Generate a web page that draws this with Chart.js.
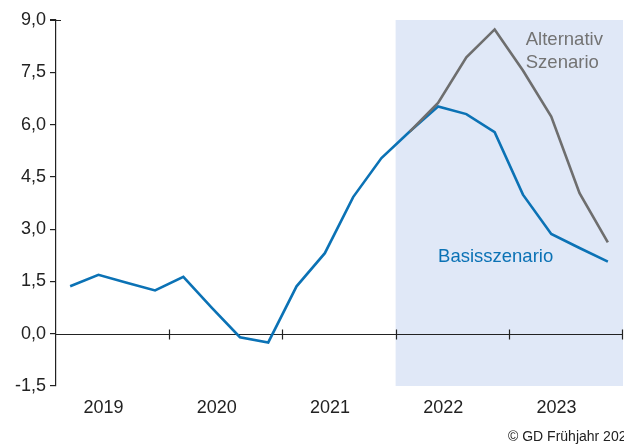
<!DOCTYPE html>
<html>
<head>
<meta charset="utf-8">
<script src="https://cdn.jsdelivr.net/npm/chart.js@4/dist/chart.umd.min.js"></script>
<style>
  html, body { margin: 0; padding: 0; background: #fff; }
  #wrap { width: 624px; height: 444px; }
</style>
</head>
<body>
<div id="wrap"><canvas id="grafica" width="624" height="444"></canvas></div>
<script>
// 📋 DATOS
const quartale = [
  "2019 Q1", "2019 Q2", "2019 Q3", "2019 Q4",
  "2020 Q1", "2020 Q2", "2020 Q3", "2020 Q4",
  "2021 Q1", "2021 Q2", "2021 Q3", "2021 Q4",
  "2022 Q1", "2022 Q2", "2022 Q3", "2022 Q4",
  "2023 Q1", "2023 Q2", "2023 Q3", "2023 Q4"
];
const jahre = ["2019", "2020", "2021", "2022", "2023"];

const basis = [1.36, 1.69, 1.46, 1.24, 1.63, 0.75, -0.10, -0.25,
               1.36, 2.31, 3.92, 5.04, 5.80, 6.52, 6.30, 5.78,
               3.99, 2.86, 2.46, 2.07];
const alternativ = [null, null, null, null, null, null, null, null,
                    null, null, null, null, 5.80, 6.62, 7.93, 8.73,
                    7.55, 6.23, 4.03, 2.62];

const yTicks = [-1.5, 0, 1.5, 3, 4.5, 6, 7.5, 9];
const yTickLabels = ["-1,5", "0,0", "1,5", "3,0", "4,5", "6,0", "7,5", "9,0"];

// Prognosezeitraum ab 2022 (Quartalsindex)
const prognoseStart = 12;

const toPoints = arr => arr.map((v, i) => ({ x: i + 0.5, y: v }));

const BLAU = "#0b72b5";
const GRAU = "#6e6e6e";
const TEXT = "#222222";
const FONT = "'Liberation Sans', Arial, Helvetica, sans-serif";


// 🎨 PLUGIN: Schattierung, Nulllinie, Beschriftungen
const extras = {
  id: "extras",
  beforeDatasetsDraw(chart) {
    const { ctx, scales: { x, y } } = chart;
    ctx.save();

    // Prognose-Hintergrund
    ctx.fillStyle = "#e0e8f7";
    const x0 = x.getPixelForValue(prognoseStart);
    const x1 = x.getPixelForValue(quartale.length) + 1;
    const yTop = y.getPixelForValue(9);
    const yBot = y.getPixelForValue(-1.5);
    ctx.fillRect(x0, yTop, x1 - x0, yBot - yTop);

    // Nulllinie mit Jahresstrichen
    const y0 = Math.round(y.getPixelForValue(0)) + 0.5;
    ctx.strokeStyle = TEXT;
    ctx.lineWidth = 1.2;
    ctx.beginPath();
    ctx.moveTo(x.getPixelForValue(0), y0);
    ctx.lineTo(x.getPixelForValue(quartale.length), y0);
    for (let q = 4; q <= quartale.length; q += 4) {
      const px = Math.round(x.getPixelForValue(q)) + 0.5;
      ctx.moveTo(px, y0 - 5);
      ctx.lineTo(px, y0 + 5);
    }
    // Strich oben bei 9,0
    ctx.moveTo(x.getPixelForValue(0) - 6, Math.round(yTop) + 0.5);
    ctx.lineTo(x.getPixelForValue(0) + 5, Math.round(yTop) + 0.5);
    ctx.stroke();
    ctx.restore();
  },
  afterDraw(chart) {
    const { ctx, scales: { x, y } } = chart;
    ctx.save();
    ctx.textBaseline = "middle";
    ctx.textAlign = "left";

    ctx.font = "18.5px " + FONT;
    ctx.fillStyle = "#737373";
    ctx.fillText("Alternativ", x.getPixelForValue(16.6), y.getPixelForValue(8.43));
    ctx.fillText("Szenario", x.getPixelForValue(16.6), y.getPixelForValue(7.78));

    ctx.fillStyle = BLAU;
    ctx.fillText("Basisszenario", x.getPixelForValue(13.5), y.getPixelForValue(2.19));

    ctx.font = "14px " + FONT;
    ctx.fillStyle = TEXT;
    ctx.fillText("© GD Frühjahr 2022", 508, 437);
    ctx.restore();
  }
};


// 📈 GRAFIK
new Chart(document.getElementById("grafica").getContext("2d"), {
  type: "line",
  data: {
    datasets: [
      {
        label: "Alternativszenario",
        data: toPoints(alternativ),
        borderColor: GRAU,
        borderWidth: 2.6,
        pointRadius: 0,
        fill: false,
        tension: 0
      },
      {
        label: "Basisszenario",
        data: toPoints(basis),
        borderColor: BLAU,
        borderWidth: 2.6,
        pointRadius: 0,
        fill: false,
        tension: 0
      }
    ]
  },
  options: {
    responsive: false,
    animation: false,
    layout: { padding: { top: 20, right: 2, left: 0, bottom: 0 } },
    plugins: {
      legend: { display: false },
      tooltip: { enabled: false }
    },
    scales: {
      x: {
        type: "linear",
        min: 0,
        max: quartale.length,
        afterBuildTicks: scale => {
          scale.ticks = jahre.map((j, i) => ({ value: i * 4 + 2 }));
        },
        afterFit: scale => { scale.height = 58; },
        grid: { display: false, drawTicks: false },
        border: { display: false },
        ticks: {
          callback: (v, i) => jahre[i],
          labelOffset: -9,
          padding: 11,
          maxRotation: 0,
          autoSkip: false,
          color: TEXT,
          font: { family: FONT, size: 18 }
        }
      },
      y: {
        min: -1.5,
        max: 9,
        afterBuildTicks: scale => {
          scale.ticks = yTicks.map(v => ({ value: v }));
        },
        afterFit: scale => { scale.width = 56; },
        grid: {
          drawOnChartArea: false,
          drawTicks: true,
          tickLength: 6,
          color: TEXT,
          lineWidth: 1.2
        },
        border: { display: true, color: TEXT, width: 1.2 },
        ticks: {
          callback: (v, i) => yTickLabels[i],
          padding: 4,
          color: TEXT,
          font: { family: FONT, size: 18 }
        }
      }
    }
  },
  plugins: [extras]
});
</script>
</body>
</html>
